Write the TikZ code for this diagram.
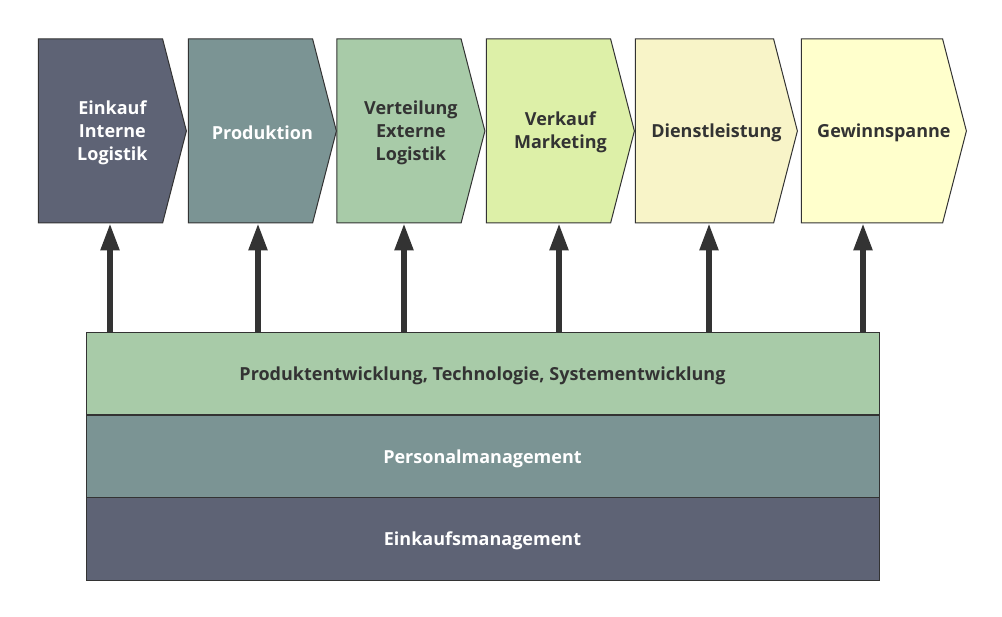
\documentclass[tikz,border=0pt]{standalone}
\usepackage{fontspec}
\setmainfont{Open Sans}
\usepackage{tikz}
\usetikzlibrary{arrows.meta, positioning, calc, shapes.symbols}
\definecolor{darkslate}{RGB}{94, 99, 117}
\definecolor{tealgray}{RGB}{123, 148, 148}
\definecolor{sagegreen}{RGB}{168, 203, 168}
\definecolor{limegreen}{RGB}{221, 240, 168}
\definecolor{creamfill}{RGB}{248, 244, 200}
\definecolor{paleyellow}{RGB}{255, 255, 204}
\definecolor{edgecol}{RGB}{51, 51, 51}
\definecolor{textdark}{RGB}{51, 51, 51}

\begin{document}
\begin{tikzpicture}[
    x=1pt, y=-1pt,
    font=\fontsize{18}{23}\selectfont\bfseries,
    stage/.style={signal, signal to=east, signal pointer angle=151,
                  draw=edgecol, line width=1pt,
                  minimum width=148pt, minimum height=184pt,
                  inner sep=0pt},
    stagetext/.style={align=center, inner sep=0pt, text=textdark,
                      yshift=-1.5pt},
    layer/.style={rectangle, draw=edgecol, line width=1pt,
                  minimum width=793pt, minimum height=82pt,
                  inner sep=0pt, align=center, text=textdark,
                  text depth=0pt},
    uparrow/.style={-{Triangle[length=27pt, width=18pt]},
                    line width=5.5pt, draw=edgecol},
]

\useasboundingbox (0,0) rectangle (1002,617);

% ============================================================
% PRIMARY ACTIVITIES (chevrons)
% ============================================================
\node[stage, fill=darkslate] (inbound) at (100.5, 131) {};
\node[stage, fill=tealgray] (operations) at (250.5, 131) {};
\node[stage, fill=sagegreen] (outbound) at (399, 131) {};
\node[stage, fill=limegreen] (sales) at (548.5, 131) {};
\node[stage, fill=creamfill, minimum width=162pt] (service) at (704.5, 131) {};
\node[stage, fill=paleyellow, minimum width=165pt] (margin) at (872, 131) {};

% labels centred on the whole chevron, tip included
\node[stagetext, text=white] (inbound-txt)
    at ($(inbound.west)!0.5!(inbound.east)$) {Einkauf\\Interne\\Logistik};
\node[stagetext, text=white] (operations-txt)
    at ($(operations.west)!0.5!(operations.east)$) {Produktion};
\node[stagetext] (outbound-txt)
    at ($(outbound.west)!0.5!(outbound.east)$) {Verteilung\\Externe\\Logistik};
\node[stagetext] (sales-txt)
    at ($(sales.west)!0.5!(sales.east)$) {Verkauf\\Marketing};
\node[stagetext] (service-txt)
    at ($(service.west)!0.5!(service.east)$) {Dienstleistung};
\node[stagetext] (margin-txt)
    at ($(margin.west)!0.5!(margin.east)$) {Gewinnspanne};

% ============================================================
% SUPPORT ACTIVITIES (stacked layers)
% ============================================================
\node[layer, fill=sagegreen] (techdev) at (482.5, 374)
    {Produktentwicklung, Technologie, Systementwicklung};
\node[layer, fill=tealgray, text=white] (hrm) at (482.5, 456.5)
    {Personalmanagement};
\node[layer, fill=darkslate, text=white] (procurement) at (482.5, 539)
    {Einkaufsmanagement};

% ============================================================
% ARROWS (support -> primary)
% ============================================================
\foreach \n/\x in {inbound/110, operations/258, outbound/404,
                   sales/559, service/709, margin/863}
    \draw[uparrow] (\x,0 |- techdev.north) -- (\x,0 |- \n.south);

\end{tikzpicture}
\end{document}
